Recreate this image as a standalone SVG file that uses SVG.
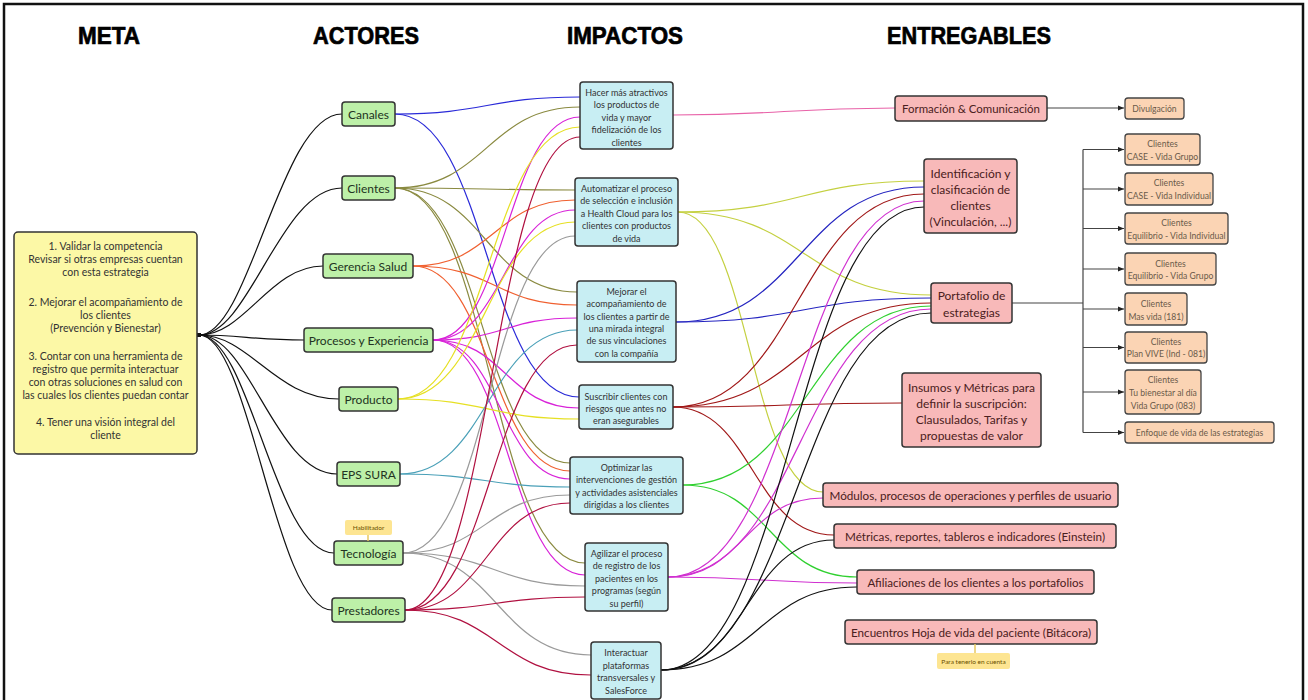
<svg xmlns="http://www.w3.org/2000/svg" width="1308" height="700" viewBox="0 0 1308 700">
  <defs>
    <marker id="arr" viewBox="0 0 8 8" refX="7" refY="4" markerWidth="6" markerHeight="6" orient="auto">
      <path d="M0,1 L7,4 L0,7 z" fill="#222"/>
    </marker>
  </defs>
  <style>
    text { font-family: Lato, "Liberation Sans", sans-serif; text-anchor: middle; }
    .hdr { font-family: "Liberation Sans Narrow", "Liberation Sans", sans-serif; font-weight: bold; font-size: 24px; fill: #000; stroke: #000; stroke-width: 0.7px; }
    .meta rect { fill: #fcf8a6; stroke: #333; stroke-width: 1.5; }
    .meta text { font-size: 10.5px; fill: #333; }
    .actor rect { fill: #bdf0a8; stroke: #333; stroke-width: 1.5; }
    .actor text { font-size: 12px; fill: #223322; }
    .imp rect { fill: #c8eef3; stroke: #333; stroke-width: 1.5; }
    .imp text { font-size: 9px; fill: #333; }
    .ent rect { fill: #f8b9b9; stroke: #333; stroke-width: 1.5; }
    .ent text { font-size: 12px; fill: #4a2020; }
    .sub rect { fill: #fbd4b4; stroke: #444; stroke-width: 1.3; }
    .sub text { font-size: 8.6px; fill: #6a5a4a; }
    .note rect { fill: #fde592; stroke: none; }
    .note text { font-size: 6.5px; fill: #6a5000; }
    .links path { fill: none; stroke-width: 1.2; }
    .k { stroke: #111; }
    .c1 { stroke: #2a2ad8; }
    .c2 { stroke: #8a8a40; }
    .c3 { stroke: #f06030; }
    .c4 { stroke: #d822d8; }
    .c5 { stroke: #e6e024; }
    .c6 { stroke: #4aa0b8; }
    .c7 { stroke: #9a9a9a; }
    .c8 { stroke: #b01040; }
    .i1 { stroke: #e862a8; }
    .i2 { stroke: #c4d040; }
    .i3 { stroke: #2424c0; }
    .i4 { stroke: #a01818; }
    .i5 { stroke: #30d030; }
    .i6 { stroke: #d030d0; }
    .i7 { stroke: #111; }
    .tree path { fill: none; stroke: #444; stroke-width: 1.2; }
  </style>

  <rect width="1308" height="700" fill="#fff"/>
  <!-- outer frame -->
  <path d="M4,702 V4 H1303 V702" fill="none" stroke="#111" stroke-width="2.5"/>

  <!-- column headers -->
  <text class="hdr" x="109" y="44" textLength="62" lengthAdjust="spacingAndGlyphs">META</text>
  <text class="hdr" x="366" y="44" textLength="106" lengthAdjust="spacingAndGlyphs">ACTORES</text>
  <text class="hdr" x="625" y="44" textLength="116" lengthAdjust="spacingAndGlyphs">IMPACTOS</text>
  <text class="hdr" x="969" y="44" textLength="164" lengthAdjust="spacingAndGlyphs">ENTREGABLES</text>

  <!-- connectors -->
  <g id="connectors" class="links">
    <!-- meta to actors -->
    <path class="k" d="M199,335 C250,335 280,114 342,114"/>
    <path class="k" d="M199,335 C250,335 280,188 342,188"/>
    <path class="k" d="M199,335 C245,335 270,266 323,266"/>
    <path class="k" d="M199,335 C240,335 255,340 304,340"/>
    <path class="k" d="M199,335 C250,335 275,399 339,399"/>
    <path class="k" d="M199,335 C250,335 275,474 337,474"/>
    <path class="k" d="M199,335 C250,335 275,553 334,553"/>
    <path class="k" d="M199,335 C250,335 275,610 332,610"/>

    <!-- Canales -->
    <path class="c1" d="M395,114 C487,114 487,97 580,97"/>
    <path class="c1" d="M395,114 C487,114 487,397 579,397"/>
    <!-- Clientes -->
    <path class="c2" d="M395,188 C487,188 487,107 580,107"/>
    <path class="c2" d="M395,188 C485,188 485,190 575,190"/>
    <path class="c2" d="M395,188 C486,188 486,292 577,292"/>
    <path class="c2" d="M395,188 C482,188 482,463 570,463"/>
    <path class="c2" d="M395,188 C490,188 490,563 585,563"/>
    <!-- Gerencia Salud -->
    <path class="c3" d="M413,266 C494,266 494,200 575,200"/>
    <path class="c3" d="M413,266 C495,266 495,305 577,305"/>
    <path class="c3" d="M413,266 C491,266 491,471 570,471"/>
    <!-- Procesos y Experiencia -->
    <path class="c4" d="M433,340 C506,340 506,117 580,117"/>
    <path class="c4" d="M433,340 C504,340 504,210 575,210"/>
    <path class="c4" d="M433,340 C505,340 505,318 577,318"/>
    <path class="c4" d="M433,340 C506,340 506,408 579,408"/>
    <path class="c4" d="M433,340 C501,340 501,479 570,479"/>
    <path class="c4" d="M433,340 C509,340 509,575 585,575"/>
    <!-- Producto -->
    <path class="c5" d="M398,399 C489,399 489,127 580,127"/>
    <path class="c5" d="M398,399 C486,399 486,222 575,222"/>
    <path class="c5" d="M398,399 C488,399 488,419 579,419"/>
    <!-- EPS SURA -->
    <path class="c6" d="M400,474 C488,474 488,330 577,330"/>
    <path class="c6" d="M400,474 C485,474 485,487 570,487"/>
    <!-- Tecnologia -->
    <path class="c7" d="M403,553 C489,553 489,236 575,236"/>
    <path class="c7" d="M403,553 C486,553 486,495 570,495"/>
    <path class="c7" d="M403,553 C494,553 494,586 585,586"/>
    <path class="c7" d="M403,553 C497,553 497,655 591,655"/>
    <!-- Prestadores -->
    <path class="c8" d="M405,610 C492,610 492,137 580,137"/>
    <path class="c8" d="M405,610 C491,610 491,345 577,345"/>
    <path class="c8" d="M405,610 C487,610 487,503 570,503"/>
    <path class="c8" d="M405,610 C495,610 495,597 585,597"/>
    <path class="c8" d="M405,610 C498,610 498,675 591,675"/>

    <!-- impacts to deliverables -->
    <path class="i1" d="M673,115 C784,115 784,108 895,108"/>
    <path class="i2" d="M678,212 C801,212 801,181 924,181"/>
    <path class="i2" d="M678,212 C804,212 804,295 931,295"/>
    <path class="i2" d="M678,212 C750,212 750,492 823,492"/>
    <path class="i3" d="M676,322 C800,322 800,187 924,187"/>
    <path class="i3" d="M676,322 C803,322 803,298 931,298"/>
    <path class="i4" d="M673,407 C798,407 798,194 924,194"/>
    <path class="i4" d="M673,407 C802,407 802,303 931,303"/>
    <path class="i4" d="M673,407 C787,407 787,403 902,403"/>
    <path class="i4" d="M673,407 C753,407 753,535 834,535"/>
    <path class="i5" d="M683,485 C807,485 807,306 931,306"/>
    <path class="i5" d="M683,485 C770,485 770,577 857,577"/>
    <path class="i6" d="M668,577 C796,577 796,201 924,201"/>
    <path class="i6" d="M668,577 C800,577 800,309 931,309"/>
    <path class="i6" d="M668,577 C745,577 745,498 823,498"/>
    <path class="i6" d="M668,577 C762,577 762,583 857,583"/>
    <path class="i7" d="M661,670 C792,670 792,207 924,207"/>
    <path class="i7" d="M661,670 C796,670 796,313 931,313"/>
    <path class="i7" d="M661,670 C747,670 747,540 834,540"/>
    <path class="i7" d="M661,670 C759,670 759,587 857,587"/>
  </g>

  <!-- tree of strategy portfolios -->
  <g id="tree" class="tree">
    <path d="M1047,108 H1124" stroke="#111" marker-end="url(#arr)"/>
    <path d="M1012,303 H1083"/>
    <path d="M1083,149.5 V432.5" stroke="#888"/>
    <path d="M1083,149.5 H1124" marker-end="url(#arr)"/>
    <path d="M1083,189 H1124" marker-end="url(#arr)"/>
    <path d="M1083,228.5 H1124" marker-end="url(#arr)"/>
    <path d="M1083,269 H1124" marker-end="url(#arr)"/>
    <path d="M1083,309 H1124" marker-end="url(#arr)"/>
    <path d="M1083,347.5 H1124" marker-end="url(#arr)"/>
    <path d="M1083,392 H1124" marker-end="url(#arr)"/>
    <path d="M1083,432.5 H1124" marker-end="url(#arr)"/>
  </g>
  <rect x="197" y="333" width="4" height="4" fill="#111"/>

  <!-- goal -->
  <g id="meta" class="meta">
    <rect x="14" y="232" width="183" height="222" rx="4"/>
    <text x="105.5" y="250">1. Validar la competencia</text>
    <text x="105.5" y="263">Revisar si otras empresas cuentan</text>
    <text x="105.5" y="276">con esta estrategia</text>
    <text x="105.5" y="306">2. Mejorar el acompañamiento de</text>
    <text x="105.5" y="319">los clientes</text>
    <text x="105.5" y="332">(Prevención y Bienestar)</text>
    <text x="105.5" y="360">3. Contar con una herramienta de</text>
    <text x="105.5" y="373">registro que permita interactuar</text>
    <text x="105.5" y="386">con otras soluciones en salud con</text>
    <text x="105.5" y="399">las cuales los clientes puedan contar</text>
    <text x="105.5" y="426">4. Tener una visión integral del</text>
    <text x="105.5" y="439">cliente</text>
  </g>

  <!-- actors -->
  <g id="actor-canales" class="actor"><rect x="342" y="102" width="53" height="24" rx="3"/><text x="368.5" y="118.5">Canales</text></g>
  <g id="actor-clientes" class="actor"><rect x="342" y="176" width="53" height="24" rx="3"/><text x="368.5" y="192.5">Clientes</text></g>
  <g id="actor-gerencia" class="actor"><rect x="323" y="254" width="90" height="24" rx="3"/><text x="368" y="270.5">Gerencia Salud</text></g>
  <g id="actor-procesos" class="actor"><rect x="304" y="328" width="129" height="24" rx="3"/><text x="368.5" y="344.5">Procesos y Experiencia</text></g>
  <g id="actor-producto" class="actor"><rect x="339" y="387" width="59" height="24" rx="3"/><text x="368.5" y="403.5">Producto</text></g>
  <g id="actor-eps" class="actor"><rect x="337" y="462" width="63" height="24" rx="3"/><text x="368.5" y="478.5">EPS SURA</text></g>
  <g id="actor-tecnologia" class="actor"><rect x="334" y="541" width="69" height="24" rx="3"/><text x="368.5" y="557.5">Tecnología</text></g>
  <g id="actor-prestadores" class="actor"><rect x="332" y="598" width="73" height="24" rx="3"/><text x="368.5" y="614.5">Prestadores</text></g>
  <g id="note-habilitador" class="note">
    <path d="M368,535 V541" stroke="#e8c860" stroke-width="1.5"/>
    <rect x="345" y="520" width="47" height="15" rx="2"/>
    <text x="368.5" y="530">Habilitador</text>
  </g>

  <!-- impacts -->
  <g id="imp-atractivos" class="imp">
    <rect x="580" y="82" width="93" height="67" rx="3"/>
    <text x="626.5" y="95.5">Hacer más atractivos</text>
    <text x="626.5" y="108">los productos de</text>
    <text x="626.5" y="120.5">vida y mayor</text>
    <text x="626.5" y="133">fidelización de los</text>
    <text x="626.5" y="145.5">clientes</text>
  </g>
  <g id="imp-automatizar" class="imp">
    <rect x="575" y="178" width="103" height="68" rx="3"/>
    <text x="626.5" y="191.5">Automatizar el proceso</text>
    <text x="626.5" y="204">de selección e inclusión</text>
    <text x="626.5" y="216.5">a Health Cloud para los</text>
    <text x="626.5" y="229">clientes con productos</text>
    <text x="626.5" y="241.5">de vida</text>
  </g>
  <g id="imp-mejorar" class="imp">
    <rect x="577" y="281" width="99" height="81" rx="3"/>
    <text x="626.5" y="295">Mejorar el</text>
    <text x="626.5" y="307.3">acompañamiento de</text>
    <text x="626.5" y="319.6">los clientes a partir de</text>
    <text x="626.5" y="331.9">una mirada integral</text>
    <text x="626.5" y="344.2">de sus vinculaciones</text>
    <text x="626.5" y="356.5">con la compañía</text>
  </g>
  <g id="imp-suscribir" class="imp">
    <rect x="579" y="385" width="94" height="44" rx="3"/>
    <text x="626" y="399.5">Suscribir clientes con</text>
    <text x="626" y="411.8">riesgos que antes no</text>
    <text x="626" y="424">eran asegurables</text>
  </g>
  <g id="imp-optimizar" class="imp">
    <rect x="570" y="457" width="113" height="57" rx="3"/>
    <text x="626.5" y="470.5">Optimizar las</text>
    <text x="626.5" y="483">intervenciones de gestión</text>
    <text x="626.5" y="495.5">y actividades asistenciales</text>
    <text x="626.5" y="508">dirigidas a los clientes</text>
  </g>
  <g id="imp-agilizar" class="imp">
    <rect x="585" y="543" width="83" height="68" rx="3"/>
    <text x="626.5" y="556.5">Agilizar el proceso</text>
    <text x="626.5" y="569">de registro de los</text>
    <text x="626.5" y="581.5">pacientes en los</text>
    <text x="626.5" y="594">programas (según</text>
    <text x="626.5" y="606.5">su perfil)</text>
  </g>
  <g id="imp-interactuar" class="imp">
    <rect x="591" y="642" width="70" height="57" rx="3"/>
    <text x="626" y="656">Interactuar</text>
    <text x="626" y="668.5">plataformas</text>
    <text x="626" y="681">transversales y</text>
    <text x="626" y="693.5">SalesForce</text>
  </g>

  <!-- deliverables -->
  <g id="ent-formacion" class="ent"><rect x="895" y="96" width="152" height="25" rx="3"/><text x="971" y="113" textLength="138" lengthAdjust="spacingAndGlyphs">Formación &amp; Comunicación</text></g>
  <g id="ent-identificacion" class="ent">
    <rect x="924" y="159" width="93" height="74" rx="3"/>
    <text x="970.5" y="177.5">Identificación y</text>
    <text x="970.5" y="193.5">clasificación de</text>
    <text x="970.5" y="209.5">clientes</text>
    <text x="970.5" y="225.5">(Vinculación, ...)</text>
  </g>
  <g id="ent-portafolio" class="ent">
    <rect x="931" y="283" width="81" height="40" rx="3"/>
    <text x="971.5" y="300">Portafolio de</text>
    <text x="971.5" y="317">estrategias</text>
  </g>
  <g id="ent-insumos" class="ent">
    <rect x="902" y="373" width="139" height="74" rx="3"/>
    <text x="971.5" y="391.5">Insumos y Métricas para</text>
    <text x="971.5" y="407.5">definir la suscripción:</text>
    <text x="971.5" y="423.5">Clausulados, Tarifas y</text>
    <text x="971.5" y="439.5">propuestas de valor</text>
  </g>
  <g id="ent-modulos" class="ent"><rect x="823" y="483" width="295" height="24" rx="3"/><text x="970.5" y="499.5" textLength="282" lengthAdjust="spacingAndGlyphs">Módulos, procesos de operaciones y perfiles de usuario</text></g>
  <g id="ent-metricas" class="ent"><rect x="834" y="524" width="282" height="24" rx="3"/><text x="975" y="540.5" textLength="260" lengthAdjust="spacingAndGlyphs">Métricas, reportes, tableros e indicadores (Einstein)</text></g>
  <g id="ent-afiliaciones" class="ent"><rect x="857" y="570" width="237" height="24" rx="3"/><text x="975.5" y="586.5" textLength="216" lengthAdjust="spacingAndGlyphs">Afiliaciones de los clientes a los portafolios</text></g>
  <g id="ent-encuentros" class="ent"><rect x="845" y="620" width="252" height="24" rx="3"/><text x="971" y="636.5" textLength="240" lengthAdjust="spacingAndGlyphs">Encuentros Hoja de vida del paciente (Bitácora)</text></g>
  <g id="note-cuenta" class="note">
    <path d="M975,644 V653" stroke="#e8c860" stroke-width="1.5"/>
    <rect x="937" y="653" width="73" height="16" rx="2"/>
    <text x="973.5" y="663.5">Para tenerlo en cuenta</text>
  </g>

  <!-- strategy breakdown -->
  <g id="sub-divulgacion" class="sub"><rect x="1125" y="98" width="59" height="21" rx="3"/><text x="1154.5" y="112">Divulgación</text></g>
  <g id="sub-case-grupo" class="sub"><rect x="1125" y="134" width="75" height="31" rx="3"/><text x="1162.5" y="146.5">Clientes</text><text x="1162.5" y="159.5">CASE - Vida Grupo</text></g>
  <g id="sub-case-ind" class="sub"><rect x="1125" y="173" width="88" height="32" rx="3"/><text x="1169" y="186">Clientes</text><text x="1169" y="198.5">CASE - Vida Individual</text></g>
  <g id="sub-eq-ind" class="sub"><rect x="1125" y="213" width="103" height="31" rx="3"/><text x="1176.5" y="226">Clientes</text><text x="1176.5" y="238.5">Equilibrio - Vida Individual</text></g>
  <g id="sub-eq-grupo" class="sub"><rect x="1125" y="253" width="91" height="32" rx="3"/><text x="1170.5" y="266.5">Clientes</text><text x="1170.5" y="279">Equilibrio - Vida Grupo</text></g>
  <g id="sub-masvida" class="sub"><rect x="1125" y="293" width="62" height="32" rx="3"/><text x="1156" y="307">Clientes</text><text x="1156" y="319.5">Mas vida (181)</text></g>
  <g id="sub-vive" class="sub"><rect x="1125" y="332" width="82" height="31" rx="3"/><text x="1166" y="345">Clientes</text><text x="1166" y="357">Plan VIVE (Ind - 081)</text></g>
  <g id="sub-bienestar" class="sub"><rect x="1125" y="370" width="76" height="44" rx="3"/><text x="1163" y="383">Clientes</text><text x="1163" y="395.5">Tu bienestar al día</text><text x="1163" y="408.5">Vida Grupo (083)</text></g>
  <g id="sub-enfoque" class="sub"><rect x="1125" y="422" width="149" height="21" rx="3"/><text x="1199.5" y="436">Enfoque de vida de las estrategias</text></g>
</svg>
